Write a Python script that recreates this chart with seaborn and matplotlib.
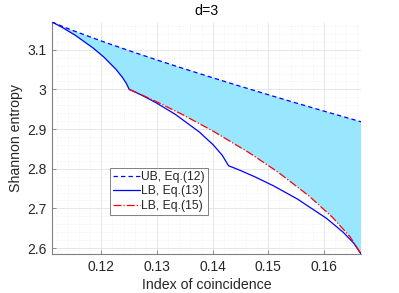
import numpy as np
import matplotlib
matplotlib.use("Agg")
import matplotlib.pyplot as plt
import seaborn as sns
from matplotlib.ticker import MultipleLocator, FormatStrFormatter, FuncFormatter

sns.set_style("white")
plt.rcParams['font.family'] = ['Liberation Sans', 'DejaVu Sans']

# UB, Eq.(12)
ub_ic = [0.11111, 0.1125, 0.115, 0.12, 0.125, 0.13, 0.135, 0.14, 0.145, 0.15, 0.155, 0.16, 0.16667]
ub_h = [3.16993, 3.16162, 3.14778, 3.12193, 3.09754, 3.07412, 3.05144, 3.02933, 3.00773, 2.98652, 2.96570, 2.94520, 2.91830]

# LB, Eq.(13) - three pieces joined at 1/8 and 1/7
lb13_ic_a = [0.11111, 0.11161, 0.11301, 0.11531, 0.11851, 0.12045, 0.12261, 0.12378, 0.12450, 0.125]
lb13_h_a = [3.16993, 3.16649, 3.15594, 3.13642, 3.10441, 3.08144, 3.05079, 3.03042, 3.01481, 3.0]
lb13_ic_b = [0.12571, 0.12731, 0.12983, 0.13326, 0.1376, 0.14011, 0.14173, 0.14286]
lb13_h_b = [2.99562, 2.98495, 2.96636, 2.93735, 2.89265, 2.86007, 2.83375, 2.80736]
lb13_ic_c = [0.14347, 0.145, 0.14747, 0.15087, 0.1552, 0.16047, 0.16345, 0.16535, 0.16667]
lb13_h_c = [2.80413, 2.79546, 2.78034, 2.75731, 2.72386, 2.67471, 2.63991, 2.61225, 2.58496]

# LB, Eq.(15)
lb15_ic = [0.125, 0.1256, 0.1274, 0.1304, 0.1346, 0.14, 0.1466, 0.15167, 0.15727, 0.1615, 0.16469, 0.16667]
lb15_h = [3.0, 2.99644, 2.98529, 2.96568, 2.93636, 2.89546, 2.83994, 2.79211, 2.73181, 2.67795, 2.62837, 2.58496]

lb13_ic = lb13_ic_a + lb13_ic_b + lb13_ic_c
lb13_h = lb13_h_a + lb13_h_b + lb13_h_c

fig = plt.figure(figsize=(3.99, 2.93), dpi=100)
ax = fig.add_axes([0.130, 0.133, 0.775, 0.792])

# shaded region between the upper bound and the tightest lower bound
poly_x = ub_ic + lb15_ic[::-1] + lb13_ic_a[::-1]
poly_y = ub_h + lb15_h[::-1] + lb13_h_a[::-1]
ax.fill(poly_x, poly_y, color='#99e6ff', linewidth=0, zorder=1)

sns.lineplot(x=ub_ic, y=ub_h, ax=ax, color='blue', linestyle=(0, (3.5, 2.5)), linewidth=0.9,
             label='UB, Eq.(12)', sort=False, estimator=None, zorder=3)
sns.lineplot(x=lb13_ic, y=lb13_h, ax=ax, color='blue', linestyle='-', linewidth=0.9,
             label='LB, Eq.(13)', sort=False, estimator=None, zorder=3)
sns.lineplot(x=lb15_ic, y=lb15_h, ax=ax, color='red', linestyle='-.', linewidth=0.9,
             label='LB, Eq.(15)', sort=False, estimator=None, zorder=4)

ax.set_xlim(1/9, 1/6)
ax.set_ylim(np.log2(6), np.log2(9))
ax.xaxis.set_major_locator(MultipleLocator(0.01))
ax.xaxis.set_minor_locator(MultipleLocator(0.002))
ax.yaxis.set_major_locator(MultipleLocator(0.1))
ax.yaxis.set_minor_locator(MultipleLocator(0.02))
ax.xaxis.set_major_formatter(FormatStrFormatter('%.2f'))
ax.yaxis.set_major_formatter(FuncFormatter(lambda v, p: f"{v:g}"))

ax.grid(True, which='major', color='#e3e3e3', linewidth=0.6, zorder=0)
ax.grid(True, which='minor', color='#ececec', linewidth=0.5, linestyle=':', zorder=0)
ax.set_axisbelow(True)

for s in ['top', 'right']:
    ax.spines[s].set_visible(False)
for s in ['left', 'bottom']:
    ax.spines[s].set_color('#808080')
    ax.spines[s].set_linewidth(0.8)

ax.tick_params(which='major', direction='in', length=3, width=0.6, color='#808080',
               labelsize=10, labelcolor='#262626', left=True, bottom=True, pad=4)
ax.tick_params(which='minor', direction='in', length=0)

ax.set_xlabel('Index of coincidence', fontsize=10.2, color='#262626', labelpad=3)
ax.set_ylabel('Shannon entropy', fontsize=10.2, color='#262626', labelpad=3)
ax.set_title('d=3', fontsize=10.2, color='black', pad=5)

leg = ax.legend(loc='upper left', bbox_to_anchor=(0.188, 0.371), borderaxespad=0,
                fontsize=8.7, frameon=True, fancybox=False, framealpha=1,
                edgecolor='#808080', handlelength=2.2, handletextpad=0.15,
                labelspacing=0.2, borderpad=0.25)
leg.get_frame().set_linewidth(0.7)

fig.savefig('out.png', dpi=100)
